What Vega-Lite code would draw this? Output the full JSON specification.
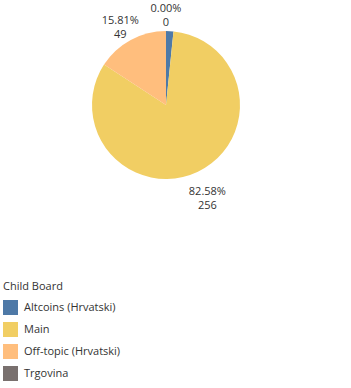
{
  "$schema": "https://vega.github.io/schema/vega-lite/v6.json",
  "autosize": {"type": "none"},
  "padding": {"left": 0, "top": 0, "right": 19, "bottom": 178},
  "width": 332,
  "height": 210,
  "background": "white",
  "view": {"stroke": null},
  "config": {"font": "Open Sans"},
  "data": {
    "values": [
      {"board": "Altcoins (Hrvatski)", "count": 5},
      {"board": "Main", "count": 256},
      {"board": "Off-topic (Hrvatski)", "count": 49},
      {"board": "Trgovina", "count": 0}
    ]
  },
  "transform": [
    {"joinaggregate": [{"op": "sum", "field": "count", "as": "total"}]},
    {"calculate": "datum.count / datum.total", "as": "pct"},
    {"calculate": "[format(datum.pct, '.2%'), format(datum.count, 'd')]", "as": "label"}
  ],
  "encoding": {
    "theta": {"field": "count", "type": "quantitative", "stack": true},
    "order": {"field": "board", "type": "ordinal", "sort": "ascending"},
    "color": {
      "field": "board",
      "type": "nominal",
      "title": "Child Board",
      "scale": {
        "domain": ["Altcoins (Hrvatski)", "Main", "Off-topic (Hrvatski)", "Trgovina"],
        "range": ["#4e79a7", "#f1ce63", "#ffbe7d", "#79706e"]
      },
      "legend": {
        "orient": "none",
        "legendX": 3,
        "legendY": 281,
        "symbolType": "square",
        "symbolSize": 225,
        "symbolStrokeWidth": 0,
        "symbolOpacity": 1,
        "rowPadding": 7,
        "titleFont": "Open Sans",
        "titleFontWeight": "normal",
        "titleFontSize": 11,
        "titleColor": "#333333",
        "titlePadding": 8,
        "labelFont": "Open Sans",
        "labelFontSize": 11,
        "labelColor": "#333333",
        "labelOffset": 6
      }
    }
  },
  "layer": [
    {"mark": {"type": "arc", "outerRadius": 74}},
    {
      "mark": {"type": "text", "radius": 96, "fontSize": 11, "lineHeight": 14},
      "encoding": {
        "text": {"field": "label"},
        "fill": {"value": "#333333"},
        "opacity": {"condition": {"test": "datum.board === 'Altcoins (Hrvatski)'", "value": 0}, "value": 1}
      }
    }
  ]
}
